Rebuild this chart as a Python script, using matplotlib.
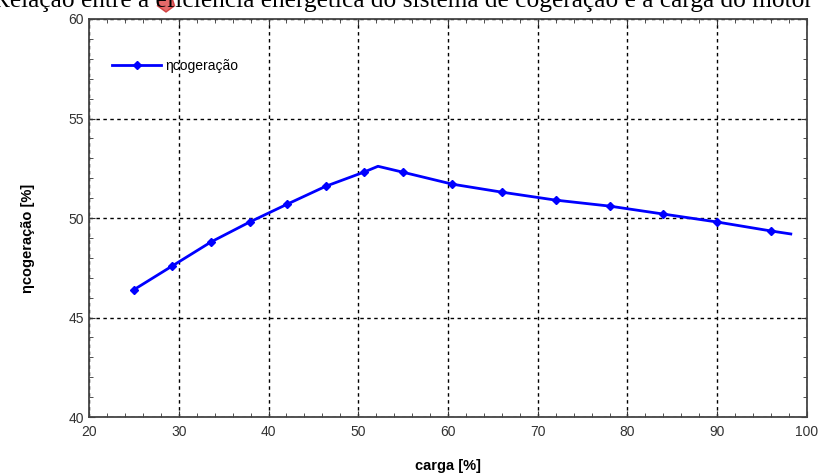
import numpy as np
import matplotlib.pyplot as plt
from matplotlib.ticker import MultipleLocator
from matplotlib.patches import RegularPolygon

# carga [%] e eficiencia de cogeracao [%]
carga = [25.0, 29.3, 33.6, 37.9, 42.1, 46.4, 50.6, 52.2, 55.0, 60.5,
         66.0, 72.0, 78.0, 84.0, 90.0, 96.0, 98.2]
eta_cog = [46.4, 47.6, 48.8, 49.8, 50.7, 51.6, 52.3, 52.6, 52.3, 51.7,
           51.3, 50.9, 50.6, 50.2, 49.8, 49.35, 49.2]
# pontos marcados (sem o pico e o final da curva)
marcados = [0, 1, 2, 3, 4, 5, 6, 8, 9, 10, 11, 12, 13, 14, 15]

plt.rcParams['font.family'] = ['Liberation Sans', 'DejaVu Sans']

fig = plt.figure(figsize=(8.19, 4.74), dpi=100)
ax = fig.add_axes([0.1087, 0.120, 0.8766, 0.840])

ax.plot(carga, eta_cog, '-', color='#0000FF', lw=2, marker='D', ms=4.5,
        markevery=marcados, label='ηcogeração')

ax.set_xlim(20, 100)
ax.set_ylim(40, 60)
ax.xaxis.set_major_locator(MultipleLocator(10))
ax.xaxis.set_minor_locator(MultipleLocator(2))
ax.yaxis.set_major_locator(MultipleLocator(5))
ax.yaxis.set_minor_locator(MultipleLocator(1))
ax.tick_params(which='both', direction='in', top=True, right=True,
               colors='#333333', labelcolor='#333333')
ax.tick_params(which='major', length=4, labelsize=10)
ax.tick_params(which='minor', length=3)
ax.tick_params(axis='x', pad=6)
for sp in ax.spines.values():
    sp.set_color('#444444')
    sp.set_linewidth(1.3)

ax.grid(True, which='major', color='black', ls=(0, (2.5, 2.5)), lw=1)

ax.set_xlabel('carga [%]', fontsize=10.5, fontweight='bold', labelpad=14)
ax.set_ylabel('ηcogeração [%]', fontsize=10.5, fontweight='bold')
ax.yaxis.set_label_coords(-0.075, 0.45)

leg = ax.legend(loc='upper left', bbox_to_anchor=(0.015, 0.93), frameon=False,
                fontsize=10, handlelength=3.5, handletextpad=0.3,
                markerscale=0.9)

# titulo cortado no topo da imagem
fig.text(-0.008, 1 - 7 / 474, 'Relação entre a eficiência energética do sistema de cogeração e a carga do motor',
         family='Liberation Serif', fontsize=18.3, va='baseline', ha='left')
fig.patches.append(RegularPolygon((166, 471), numVertices=5, radius=9,
                                  orientation=np.pi, transform=None,
                                  facecolor='#E05050', edgecolor='#CC3030',
                                  alpha=0.85, figure=fig))

plt.savefig('out.png', dpi=100)
